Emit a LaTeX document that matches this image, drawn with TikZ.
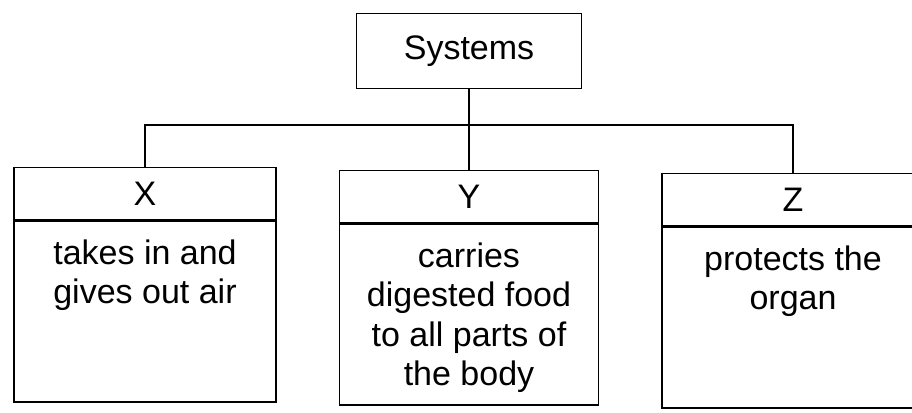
\documentclass[tikz,border=0pt]{standalone}
\usepackage{fontspec}
\setmainfont{Liberation Sans}
\begin{document}
\begin{tikzpicture}[x=1pt,y=-1pt,
  wire/.style={line width=1.3pt},
  box/.style={draw,line width=1.3pt,inner sep=0pt,minimum width=262pt},
  headbox/.style={box,minimum height=52pt,font=\fontsize{34}{40}\selectfont},
  bodybox/.style={box,minimum height=181pt},
  desc/.style={inner sep=0pt,align=center,font=\fontsize{34}{39.5}\selectfont}]
\useasboundingbox (0,0) rectangle (912,412);
\clip (0,0) rectangle (912,412);

\node[draw,line width=1.3pt,minimum width=225pt,minimum height=75pt,
  font=\fontsize{34}{40}\selectfont] (sys) at (469,51) {Systems};

\node[headbox,anchor=north] (xhead) at (145,167) {X};
\node[bodybox,anchor=north] (xbody) at (xhead.south) {};
\node[desc,anchor=north] (xtext) at ([yshift=-19pt]xbody.north) {takes in and\\gives out air};

\node[headbox,anchor=north,minimum width=259pt] (yhead) at (469,170) {Y};
\node[bodybox,anchor=north,minimum width=259pt] (ybody) at (yhead.south) {};
\node[desc,anchor=north] (ytext) at ([yshift=-19pt]ybody.north) {carries\\digested food\\to all parts of\\the body};

\node[headbox,anchor=north] (zhead) at (793,173) {Z};
\node[bodybox,anchor=north] (zbody) at (zhead.south) {};
\node[desc,anchor=north] (ztext) at ([yshift=-19pt]zbody.north) {protects the\\organ};

\coordinate (bus) at (469,125);
\draw[wire] (sys.south) -- (yhead.north);
\draw[wire] (xhead.north) |- (bus) -| (zhead.north);
\end{tikzpicture}
\end{document}
